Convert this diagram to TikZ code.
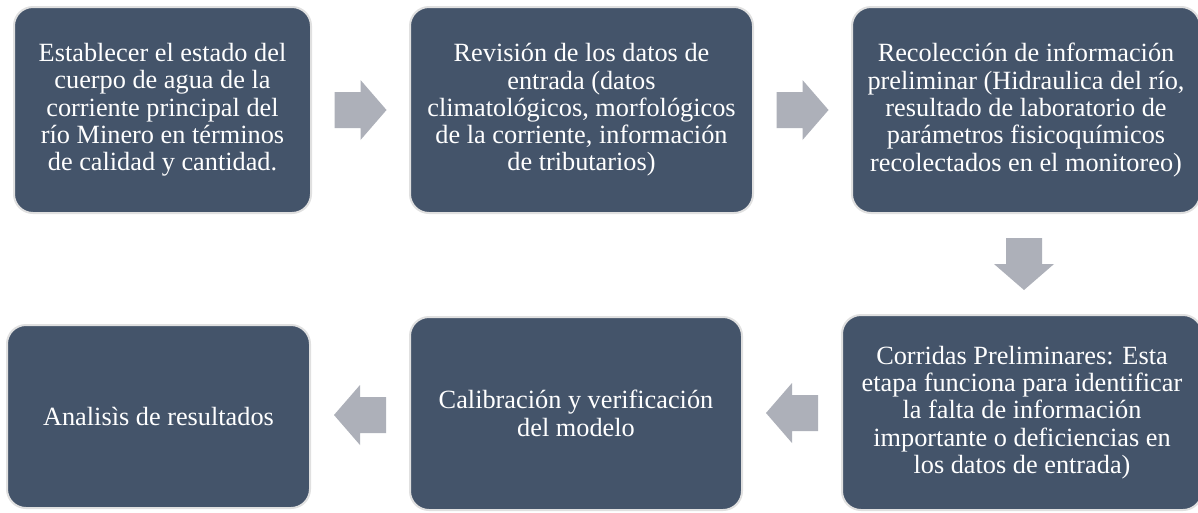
\documentclass[tikz,border=0pt]{standalone}
\usepackage{fontspec}
\setmainfont{Liberation Serif}
\usetikzlibrary{calc}
\definecolor{boxfill}{RGB}{68,84,106}
\definecolor{boxline}{RGB}{224,224,224}
\definecolor{arrowgray}{RGB}{173,176,185}
\tikzset{
  stepbox/.style={rectangle, rounded corners=19pt, fill=boxfill, draw=boxline,
    line width=2pt, text=white, align=center, inner sep=0pt,
    font=\fontsize{26.3}{27.3}\selectfont},
  barrow/.pic={\fill[arrowgray] (-26,-18) -- (0,-18) -- (0,-30) -- (26,0)
    -- (0,30) -- (0,18) -- (-26,18) -- cycle;}
}
\begin{document}
\begin{tikzpicture}[x=1pt,y=-1pt]
\useasboundingbox (0,0) rectangle (1198,512);
\fill[white] (0,0) rectangle (1198,512);
\node[stepbox, minimum width=297pt, minimum height=206pt] (b1) at (162.5,110)
  {Establecer el estado del\\cuerpo de agua de la\\corriente principal del\\río Minero en términos\\de calidad y cantidad.};
\node[stepbox, minimum width=343pt, minimum height=206pt] (b2) at (581.5,110)
  {Revisión de los datos de\\entrada (datos\\climatológicos, morfológicos\\de la corriente, información\\de tributarios)};
\node[stepbox, minimum width=348pt, minimum height=206pt] (b3) at (1026,110)
  {Recolección de información\\preliminar (Hidraulica del río,\\resultado de laboratorio de\\parámetros fisicoquímicos\\recolectados en el monitoreo)};
\node[stepbox, minimum width=360pt, minimum height=195pt] (b4) at (1022,412.5)
  {Corridas Preliminares: Esta\\etapa funciona para identificar\\la falta de información\\importante o deficiencias en\\los datos de entrada)};
\node[stepbox, minimum width=332pt, minimum height=193pt] (b5) at (576,413.5)
  {Calibración y verificación\\del modelo};
\node[stepbox, minimum width=303pt, minimum height=183pt] (b6) at (158.5,416.5)
  {Analisìs de resultados};
\pic at ($(b1.east)!0.5!(b2.west)$) {barrow};
\pic at ($(b2.east)!0.5!(b3.west)$) {barrow};
\pic[rotate=-90] at ($(b3.south)!0.5!(b4.north)$) {barrow};
\pic[rotate=180] at ($(b4.west)!0.5!(b5.east)$) {barrow};
\pic[rotate=180] at ($(b5.west)!0.5!(b6.east)$) {barrow};
\end{tikzpicture}
\end{document}
